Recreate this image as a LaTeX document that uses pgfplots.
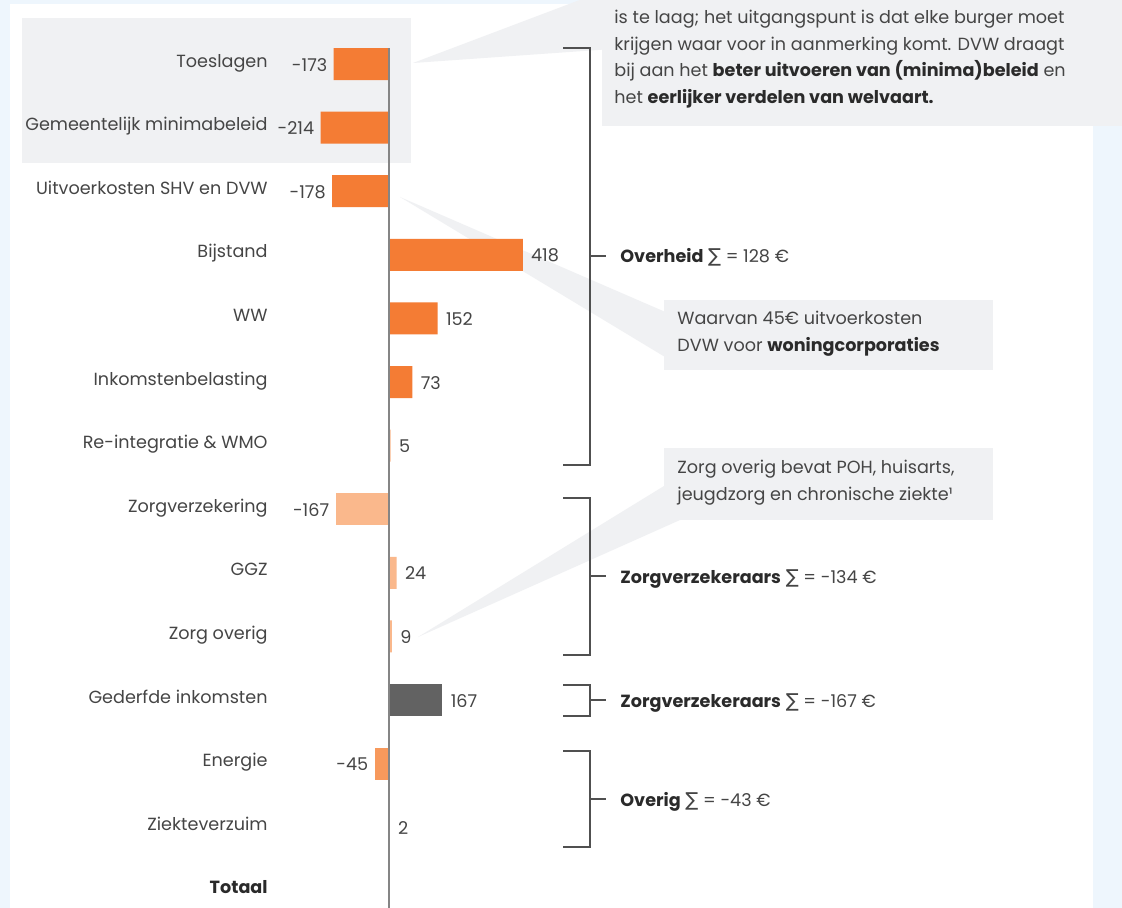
\documentclass[border=0pt]{standalone}
\usepackage{pgfplots}
\pgfplotsset{compat=1.18}
\usepackage{pgfplotstable}
\usepackage{fontspec}
\setmainfont{Poppins}
\newfontfamily\symfont{DejaVu Sans}
\definecolor{bgblue}{HTML}{EEF6FD}
\definecolor{boxgray}{HTML}{F0F1F3}
\definecolor{orangeA}{HTML}{F47C34}
\definecolor{peach}{HTML}{FAB88C}
\definecolor{energ}{HTML}{F7995C}
\definecolor{darkbar}{HTML}{626262}
\definecolor{labgray}{HTML}{454545}
\definecolor{txt}{HTML}{2A2A2A}
\definecolor{brk}{HTML}{505050}
\definecolor{zeroline}{HTML}{858585}
\newcommand{\fs}{\fontsize{8.8}{10}\selectfont}
\newcommand{\sig}{{\symfont\fontsize{9.6}{10}\selectfont ∑}}

\pgfplotstableread{
x y lab
-173 0 -173
-214 1 -214
-178 2 -178
}\orneg
\pgfplotstableread{
x y lab
418 3 418
152 4 152
73 5 73
}\orpos
\pgfplotstableread{
x y lab
-167 7 -167
}\pchneg
\pgfplotstableread{
x y lab
5 6 5
24 8 24
9 9 9
2 12 2
}\pchpos
\pgfplotstableread{
x y lab
-45 11 -45
}\enneg
\pgfplotstableread{
x y lab
167 10 167
}\dkpos

\begin{document}
\begin{tikzpicture}
\path[use as bounding box] (0pt,0pt) rectangle (561pt,-454pt);
\begin{scope}[x=0.5pt,y=-0.5pt]
\fill[bgblue] (0,0) rectangle (1122,908);
\fill[white] (10,4) rectangle (1093,908);
\fill[boxgray] (22,18) rectangle (411,163);
% wedges
\fill[boxgray] (413,63) -- (585,-2) -- (612,-2) -- (612,49) -- cycle;
\fill[boxgray] (400,197) -- (670,314) -- (670,360) -- cycle;
\fill[boxgray] (418,637) -- (664,486) -- (680,520) -- cycle;
% callout boxes
\fill[boxgray] (602,-2) rectangle (1124,126);
\fill[boxgray] (664,300) rectangle (993,370);
\fill[boxgray] (664,448) rectangle (993,520);
\begin{scope}[every node/.style={anchor=base west, inner sep=0pt, font=\fs, text=labgray}]
\node at (614,24) {is te laag; het uitgangspunt is dat elke burger moet};
\node at (614,50.5) {krijgen waar voor in aanmerking komt. DVW draagt};
\node at (614,77) {bij aan het \textbf{\color{txt}beter uitvoeren van (minima)beleid} en};
\node at (614,103.5) {het \textbf{\color{txt}eerlijker verdelen van welvaart.}};
\node at (677,325) {Waarvan 45€ uitvoerkosten};
\node at (677,352) {DVW voor \textbf{\color{txt}woningcorporaties}};
\node at (677,473) {Zorg overig bevat POH, huisarts,};
\node at (677,500) {jeugdzorg en chronische ziekte¹};
\node at (620,263) {\textbf{\color{txt}Overheid} \sig{} = 128 €};
\node at (620,583) {\textbf{\color{txt}Zorgverzekeraars} \sig{} = -134 €};
\node at (620,707) {\textbf{\color{txt}Zorgverzekeraars} \sig{} = -167 €};
\node at (620,806) {\textbf{\color{txt}Overig} \sig{} = -43 €};
\end{scope}
% brackets
\begin{scope}[draw=brk, line width=0.75pt]
\draw (563,48) -- (590,48) -- (590,465) -- (563,465);
\draw (590,256) -- (606,256);
\draw (563,498) -- (590,498) -- (590,655) -- (563,655);
\draw (590,576) -- (606,576);
\draw (563,685) -- (590,685) -- (590,716) -- (563,716);
\draw (590,700) -- (606,700);
\draw (563,751) -- (590,751) -- (590,847) -- (563,847);
\draw (590,799) -- (606,799);
\end{scope}
\end{scope}

\begin{axis}[
  at={(146.5pt,-16.1pt)}, anchor=north west,
  scale only axis, width=160pt, height=445.2pt,
  xmin=-300, xmax=700, ymin=-0.5, ymax=13.5, y dir=reverse,
  xbar, bar width=16pt, bar shift=0pt,
  axis line style={draw=none},
  xtick=\empty, ytick={0,...,13}, major tick length=0pt,
  yticklabels={Toeslagen, Gemeentelijk minimabeleid, Uitvoerkosten SHV en DVW, Bijstand, WW, Inkomstenbelasting, Re-integratie \& WMO, Zorgverzekering, GGZ, Zorg overig, Gederfde inkomsten, Energie, Ziekteverzuim, \textbf{\color{txt}Totaal}},
  yticklabel style={anchor=base east, inner sep=0pt, xshift=-12.5pt, yshift=-1.5pt, text=labgray, font=\fs},
  clip=false,
  nodes near coords, point meta=explicit symbolic,
  negst/.style={every node near coord/.append style={anchor=base east, inner sep=0pt, xshift=-3pt, yshift=-3.5pt, font=\fs, text=labgray}},
  posst/.style={every node near coord/.append style={anchor=base west, inner sep=0pt, xshift=4pt, yshift=-3.5pt, font=\fs, text=labgray}},
]
\addplot[fill=orangeA, draw=none, negst] table[x=x, y=y, meta=lab] {\orneg};
\addplot[fill=orangeA, draw=none, posst] table[x=x, y=y, meta=lab] {\orpos};
\addplot[fill=peach, draw=none, negst] table[x=x, y=y, meta=lab] {\pchneg};
\addplot[fill=peach, draw=none, posst] table[x=x, y=y, meta=lab] {\pchpos};
\addplot[fill=energ, draw=none, negst] table[x=x, y=y, meta=lab] {\enneg};
\addplot[fill=darkbar, draw=none, posst] table[x=x, y=y, meta=lab] {\dkpos};
\draw[zeroline, line width=0.9pt] (axis cs:0,-0.25) -- (axis cs:0,14);
\end{axis}
\end{tikzpicture}
\end{document}
